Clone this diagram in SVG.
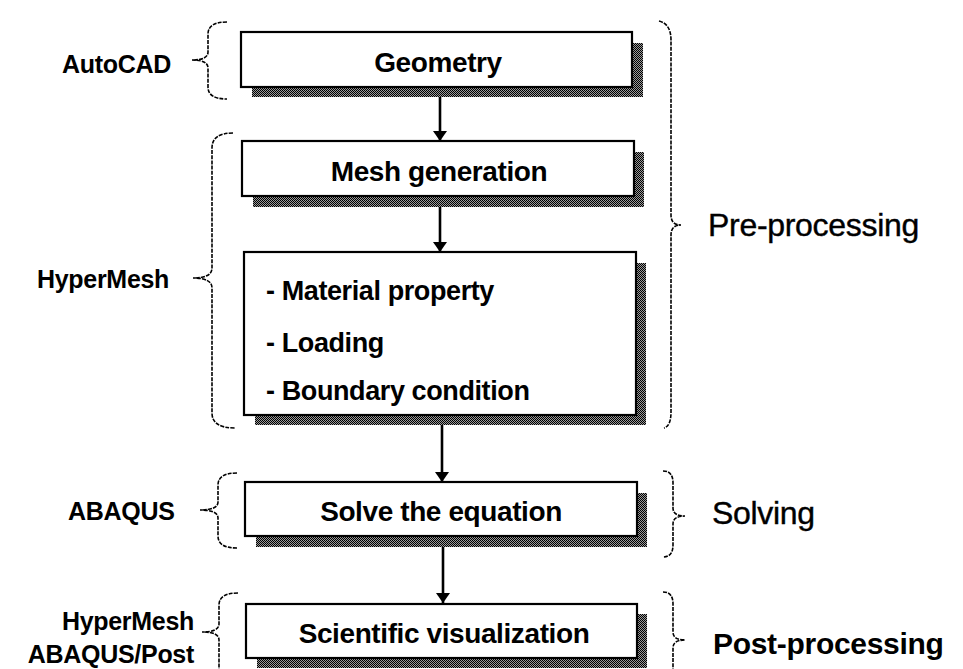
<svg xmlns="http://www.w3.org/2000/svg" width="963" height="669" viewBox="0 0 963 669">
<defs>
<pattern id="dots" width="2" height="2" patternUnits="userSpaceOnUse">
<rect width="2" height="2" fill="#9a9a9a"/>
<rect width="1" height="1" fill="#000"/>
<rect x="1" y="1" width="1" height="1" fill="#000"/>
</pattern>
<marker id="ah" viewBox="0 0 10 14" refX="10" refY="7" markerWidth="10" markerHeight="14" markerUnits="userSpaceOnUse" orient="auto">
<path d="M0,0 L10,7 L0,14 Z" fill="#000"/>
</marker>
<style>
.shadow{fill:url(#dots);stroke:none}
.box{fill:#fff;stroke:#000;stroke-width:2.2}
.bt{font-family:"Liberation Sans",Arial,sans-serif;font-weight:bold;font-size:28px;fill:#000;text-anchor:middle;letter-spacing:-0.4px}
.lt{font-family:"Liberation Sans",Arial,sans-serif;font-weight:bold;font-size:27px;fill:#000;letter-spacing:-0.4px}
.side{font-family:"Liberation Sans",Arial,sans-serif;font-weight:bold;font-size:25px;fill:#000;letter-spacing:-0.3px}
.phase{font-family:"Liberation Sans",Arial,sans-serif;font-size:32px;fill:#000;letter-spacing:-0.3px;stroke:#000;stroke-width:0.4}
.phaseb{font-family:"Liberation Sans",Arial,sans-serif;font-weight:bold;font-size:30px;fill:#000;letter-spacing:-0.3px}
.brace{fill:none;stroke:#000;stroke-width:1.6;stroke-dasharray:4 1.2}
.conn{stroke:#000;stroke-width:2.6;fill:none}
</style>
</defs>
<rect width="963" height="669" fill="#fff"/>

<g id="braces">
<path class="brace" d="M227,22 Q208,22 208,34 L208,52 Q208,60 192,60 Q208,60 208,68 L208,87 Q208,99 227,99"/>
<path class="brace" d="M233,133 Q212,133 212,148 L212,268 Q212,278 193,278 Q212,278 212,288 L212,413 Q212,428 235,428"/>
<path class="brace" d="M237,473 Q218,473 218,485 L218,502 Q218,510 200,510 Q218,510 218,518 L218,536 Q218,548 237,548"/>
<path class="brace" d="M238,593 Q219,593 219,605 L219,624 Q219,632 202,632 Q219,632 219,640 L219,700"/>
<path class="brace" d="M659,21 Q671,24 671,40 L671,215 Q671,225 681,225 Q671,225 671,235 L671,412 Q671,426 664,428"/>
<path class="brace" d="M663,471 Q673,471 673,483 L673,508 Q673,516 685,516 Q673,516 673,524 L673,545 Q673,557 663,557"/>
<path class="brace" d="M663,592 Q673,592 673,604 L673,632 Q673,640 685,640 Q673,640 673,648 L673,700"/>
</g>

<g id="labels">
<text class="side" x="62" y="73">AutoCAD</text>
<text class="side" x="37" y="288">HyperMesh</text>
<text class="side" x="68" y="520">ABAQUS</text>
<text class="side" x="194" y="630" text-anchor="end">HyperMesh</text>
<text class="side" x="194" y="663" text-anchor="end">ABAQUS/Post</text>
<text class="phase" x="708" y="236">Pre-processing</text>
<text class="phase" x="712" y="524">Solving</text>
<text class="phaseb" x="713" y="654">Post-processing</text>
</g>

<g id="connectors">
<line class="conn" x1="440" y1="87" x2="440" y2="141" marker-end="url(#ah)"/>
<line class="conn" x1="440" y1="196" x2="440" y2="252" marker-end="url(#ah)"/>
<line class="conn" x1="442" y1="415" x2="442" y2="482" marker-end="url(#ah)"/>
<line class="conn" x1="443" y1="536" x2="443" y2="603" marker-end="url(#ah)"/>
</g>

<g id="geometry">
<rect class="shadow" x="252" y="43" width="391" height="54"/>
<rect class="box" x="241" y="32" width="391" height="55"/>
<text class="bt" x="438" y="72">Geometry</text>
</g>

<g id="mesh">
<rect class="shadow" x="253" y="152" width="391" height="55"/>
<rect class="box" x="242" y="141" width="392" height="55"/>
<text class="bt" x="439" y="181">Mesh generation</text>
</g>

<g id="properties">
<rect class="shadow" x="255" y="263" width="391" height="162"/>
<rect class="box" x="244" y="252" width="392" height="163"/>
<text class="lt" x="266" y="300">- Material property</text>
<text class="lt" x="266" y="352">- Loading</text>
<text class="lt" x="266" y="400">- Boundary condition</text>
</g>

<g id="solve">
<rect class="shadow" x="256" y="493" width="391" height="54"/>
<rect class="box" x="245" y="482" width="392" height="54"/>
<text class="bt" x="441" y="521">Solve the equation</text>
</g>

<g id="visualization">
<rect class="shadow" x="257" y="614" width="390" height="54"/>
<rect class="box" x="246" y="604" width="391" height="54"/>
<text class="bt" x="444" y="643">Scientific visualization</text>
</g>
</svg>
